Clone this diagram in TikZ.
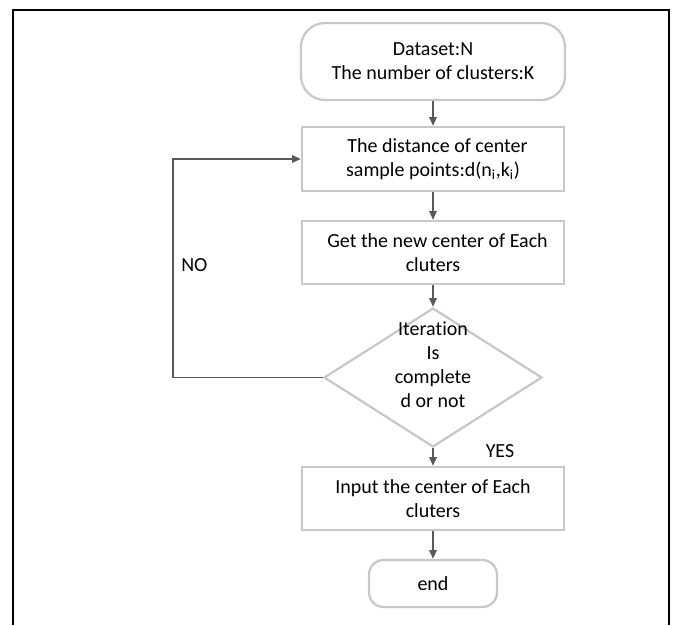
\documentclass[tikz,border=0pt]{standalone}
\usepackage{fontspec}
\setmainfont[Ligatures=NoCommon]{Carlito}
\usetikzlibrary{shapes.geometric,arrows.meta}

\begin{document}
\begin{tikzpicture}[x=0.75pt,y=0.75pt,yscale=-1,xscale=1,
	boxgray/.style={draw={rgb,255:red,200;green,200;blue,200},line width=1.7pt,inner sep=0pt,align=center,font=\fontsize{15}{18}\selectfont},
	terminal/.style={boxgray,rounded corners=18pt},
	process/.style={boxgray,rectangle},
	decision/.style={boxgray,diamond,minimum width=163.5pt,minimum height=104.25pt},
	flow/.style={draw={rgb,255:red,89;green,89;blue,89},line width=1.2pt,-{Triangle[length=6.5pt,width=5.5pt]}},
	lbl/.style={inner sep=0.75pt,font=\fontsize{15}{18}\selectfont}]
	\useasboundingbox (0,0) rectangle (678,625);
	
	%Shape: Frame
	\draw [line width=1.5pt] (13,625) -- (13,10) -- (669,10) -- (669,625) ;
	
	%Shape: Rounded Rect [id:start]
	\node [terminal,minimum width=198pt,minimum height=57.75pt] (start) at (433,61.5) {Dataset:N\\The number of clusters:K};
	%Shape: Rectangle [id:dist]
	\node [process,minimum width=196.5pt,minimum height=48pt] (dist) at (433,159) {\ \ The distance of center\\sample points:d(n\textsubscript{i},k\textsubscript{i})};
	%Shape: Rectangle [id:newc]
	\node [process,minimum width=196.5pt,minimum height=47.25pt] (newc) at (433,252.5) {\ \ Get the new center of Each\\cluters};
	%Shape: Diamond [id:dec]
	\node [decision] (dec) at (433,377.5) {};
	%Shape: Rectangle [id:outc]
	\node [process,minimum width=196.5pt,minimum height=47.25pt] (outc) at (433,498.5) {Input the center of Each\\cluters};
	%Shape: Rounded Rect [id:stop]
	\node [terminal,rounded corners=11pt,minimum width=96pt,minimum height=35.25pt] (stop) at (433,583.5) {end};
	
	%Straight Lines
	\draw [flow] (start) -- (dist) ;
	\draw [flow] (dist) -- (newc) ;
	\draw [flow] (newc) -- (dec.north) ;
	\draw [flow] (dec.south) -- (outc) ;
	\draw [flow] (outc) -- (stop) ;
	\coordinate (loop) at (173,265) ;
	\draw [flow] (dec.west) -| (loop) |- (dist.west) ;
	
	% Text Node
	\node [lbl,align=center] (dectext) at (433,364.5) {Iteration\\Is\\complete\\d or not};
	% Text Node
	\node [lbl,anchor=west] (no) at (180,265) {NO};
	% Text Node
	\node [lbl] (yes) at (500,451) {YES};
	
\end{tikzpicture}
\end{document}
